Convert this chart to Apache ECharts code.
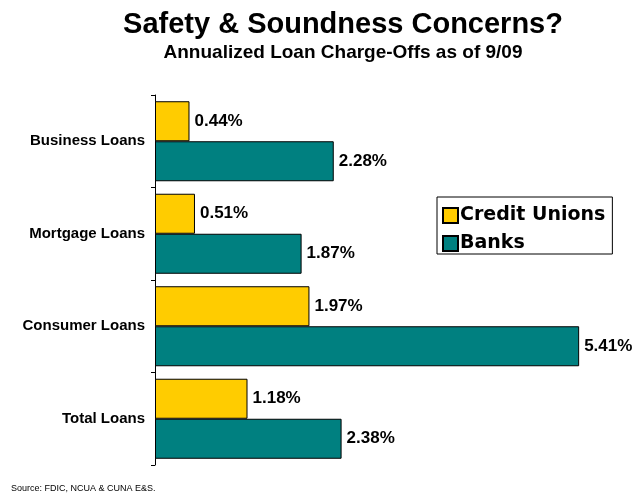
<!DOCTYPE html>
<html>
<head>
<meta charset="utf-8">
<script src="https://cdn.jsdelivr.net/npm/echarts@6/dist/echarts.min.js"></script>
<style>html,body{margin:0;padding:0;background:#fff}#c{width:634px;height:495px}</style>
</head>
<body>
<div id="c"></div>
<script>
const categories = ['Business Loans', 'Mortgage Loans', 'Consumer Loans', 'Total Loans'];
const creditUnions = [0.44, 0.51, 1.97, 1.18];
const banks = [2.28, 1.87, 5.41, 2.38];
const seriesNames = ['Credit Unions', 'Banks'];

const chart = echarts.init(document.getElementById('c'), null, {renderer: 'canvas'});
const labelCfg = {
  show: true, position: 'right', distance: 5,
  fontFamily: 'Liberation Sans, Arial, sans-serif', fontWeight: 'bold', fontSize: 17, color: '#000',
  formatter: p => p.value.toFixed(2) + '%'
};
chart.setOption({
  animation: false,
  backgroundColor: '#fff',
  title: [{
    text: 'Safety & Soundness Concerns?',
    left: 338, textAlign: 'center', top: 5,
    textStyle: {fontFamily: 'Liberation Sans, Arial, sans-serif', fontWeight: 'bold', fontSize: 29, color: '#000'}
  }, {
    text: 'Annualized Loan Charge-Offs as of 9/09',
    left: 338, textAlign: 'center', top: 38,
    textStyle: {fontFamily: 'Liberation Sans, Arial, sans-serif', fontWeight: 'bold', fontSize: 19, color: '#000'}
  }],
  graphic: [{
    type: 'text', left: 11, top: 484,
    style: {text: 'Source: FDIC, NCUA & CUNA E&S.', font: '9px "Liberation Sans", Arial, sans-serif', fill: '#000'}
  }],
  legend: {
    orient: 'vertical', left: 437, top: 197,
    padding: [9, 7, 1, 5],
    itemGap: 9, itemWidth: 15, itemHeight: 15,
    borderColor: '#000', borderWidth: 1,
    icon: 'rect',
    textStyle: {fontFamily: 'DejaVu Sans, Verdana, sans-serif', fontWeight: 'bold', fontSize: 19, color: '#000', padding: [0, 0, 0, -3]},
    data: seriesNames
  },
  grid: {left: 155, top: 95, bottom: 30, width: 470.4, containLabel: false},
  xAxis: {type: 'value', min: 0, max: 6, show: false, splitLine: {show: false}},
  yAxis: {
    type: 'category', data: categories, inverse: true,
    axisLine: {lineStyle: {color: '#000', width: 1}},
    axisTick: {show: true, inside: false, length: 4, lineStyle: {color: '#000'}},
    axisLabel: {margin: 10, fontFamily: 'Liberation Sans, Arial, sans-serif', fontWeight: 'bold', fontSize: 15, color: '#000'}
  },
  series: [{
    name: seriesNames[0], type: 'bar', data: creditUnions,
    barGap: '0%', barCategoryGap: '13.5%',
    itemStyle: {color: '#FFCC00', borderColor: '#000', borderWidth: 1},
    label: labelCfg
  }, {
    name: seriesNames[1], type: 'bar', data: banks,
    barGap: '0%', barCategoryGap: '13.5%',
    itemStyle: {color: '#008080', borderColor: '#000', borderWidth: 1},
    label: labelCfg
  }]
});
</script>
</body>
</html>
